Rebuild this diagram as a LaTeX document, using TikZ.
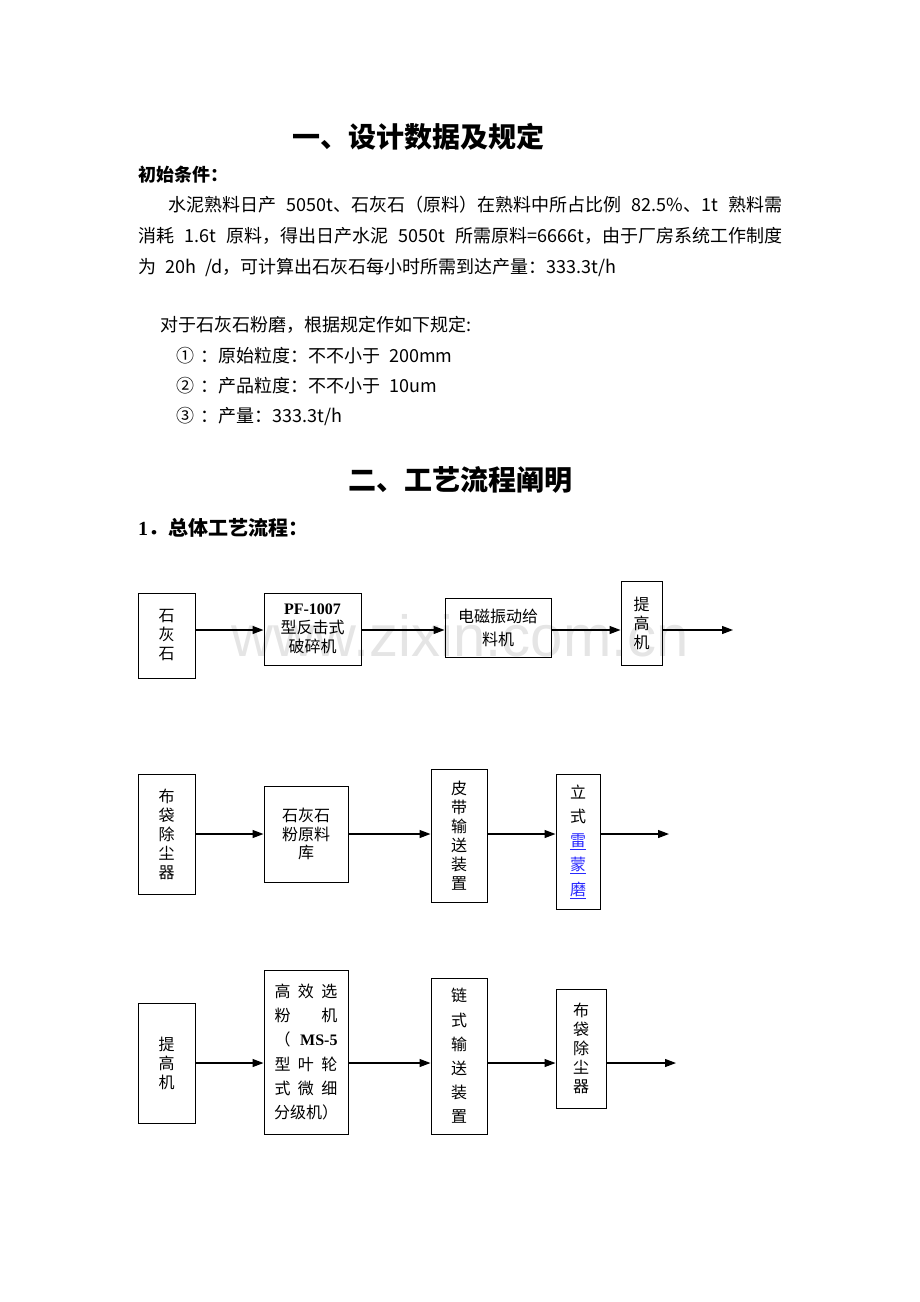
\documentclass[tikz,border=0pt]{standalone}
\usepackage{
  fontspec,
  tikz
}
\usetikzlibrary{arrows.meta}
\setmainfont{Noto Sans CJK SC}
\newfontfamily\tnr{Liberation Serif}
\newfontfamily\wmfont{Liberation Sans}
\definecolor{linkblue}{RGB}{40,40,255}
\newcommand\fixspace{\spaceskip=9pt plus 4pt\relax}

\tikzset{
  box/.style={draw, line width=1pt, align=center, inner sep=0pt,
    font=\fontsize{16}{19}\selectfont},
  wide/.style={font=\fontsize{16}{24.2}\selectfont},
  flow/.style={line width=1.2pt, -{Triangle[length=11pt,width=8pt]}},
  txt/.style={anchor=west, inner sep=0pt, font=\fontsize{18}{18}\selectfont},
  head/.style={inner sep=0pt, font=\bfseries\fontsize{28}{28}\selectfont}
}

\begin{document}
\begin{tikzpicture}[x=1pt, y=-1pt]
  \useasboundingbox (0,0) rectangle (920,1302);
  \node[anchor=base, text=gray!20, font=\wmfont\fontsize{58}{58}\selectfont] (mark) at (460,656) {www.zixin.com.cn};

  % texts
  \node[head] (title1) at (418,137) {一、设计数据及规定};
  \node[txt, font=\bfseries\fontsize{18}{18}\selectfont] (cond) at (138,175) {初始条件：};
  \node[txt] (lineA) at (168,205) {\fixspace\makebox[614pt][s]{水泥熟料日产 5050t、石灰石（原料）在熟料中所占比例 82.5\%、1t 熟料需}};
  \node[txt] (lineB) at (138,236) {\fixspace\makebox[644pt][s]{消耗 1.6t 原料，得出日产水泥 5050t 所需原料=6666t，由于厂房系统工作制度}};
  \node[txt] (lineC) at (138,267) {\fixspace 为 20h /d，可计算出石灰石每小时所需到达产量：333.3t/h};
  \node[txt] (rule) at (160,325) {对于石灰石粉磨，根据规定作如下规定:};
  \node[txt] (ruleA) at (176,356) {\fixspace ①\hspace{6pt}：原始粒度：不不小于 200mm};
  \node[txt] (ruleB) at (176,386) {\fixspace ②\hspace{6pt}：产品粒度：不不小于 10um};
  \node[txt] (ruleC) at (176,416) {③\hspace{6pt}：产量：333.3t/h};
  \node[head] (title2) at (460,480) {二、工艺流程阐明};
  \node[txt, font=\bfseries\fontsize{20}{20}\selectfont] (flowtitle) at (138,528) {{\tnr\bfseries 1}．总体工艺流程：};

  % row 1
  \node[box, minimum width=57, minimum height=85] (stone) at (166.5,635.5) {石\\灰\\石};
  \node[box, minimum width=97, minimum height=72] (crusher) at (312.5,629) {{\tnr\bfseries PF-1007}\\型反击式\\破碎机};
  \node[box, minimum width=106, minimum height=59, font=\fontsize{16}{23}\selectfont] (feeder) at (498,627.5) {电磁振动给\\料机};
  \node[box, minimum width=41, minimum height=84] (liftA) at (641.5,623) {提\\高\\机};
  \coordinate (rowA) at (0,630);
  \coordinate (endA) at (733,630);
  \draw[flow] (stone.east |- rowA) -- (crusher.west |- rowA);
  \draw[flow] (crusher.east |- rowA) -- (feeder.west |- rowA);
  \draw[flow] (feeder.east |- rowA) -- (liftA.west |- rowA);
  \draw[flow] (liftA.east |- rowA) -- (endA);

  % row 2
  \node[box, minimum width=57, minimum height=120] (filterA) at (166.5,834) {布\\袋\\除\\尘\\器};
  \node[box, minimum width=84, minimum height=96, font=\fontsize{16}{18.5}\selectfont] (silo) at (306,834) {石灰石\\粉原料\\库};
  \node[box, minimum width=56, minimum height=133] (belt) at (459,835.5) {皮\\带\\输\\送\\装\\置};
  \node[box, wide, minimum width=44, minimum height=135] (mill) at (578,841.5) {立\\式\\{\color{linkblue}\underline{雷}}\\{\color{linkblue}\underline{蒙}}\\{\color{linkblue}\underline{磨}}};
  \coordinate (rowB) at (0,834);
  \coordinate (endB) at (669,834);
  \draw[flow] (filterA.east |- rowB) -- (silo.west |- rowB);
  \draw[flow] (silo.east |- rowB) -- (belt.west |- rowB);
  \draw[flow] (belt.east |- rowB) -- (mill.west |- rowB);
  \draw[flow] (mill.east |- rowB) -- (endB);

  % row 3
  \node[box, minimum width=57, minimum height=120] (liftB) at (166.5,1063) {提\\高\\机};
  \node[box, wide, minimum width=84, minimum height=164] (classifier) at (306,1052) {\makebox[63pt][s]{高\hfill 效\hfill 选}\\\makebox[63pt][s]{粉\hfill 机}\\\makebox[63pt][s]{（\hfill{\tnr\bfseries MS-5}}\\\makebox[63pt][s]{型\hfill 叶\hfill 轮}\\\makebox[63pt][s]{式\hfill 微\hfill 细}\\分级机）};
  \node[box, wide, minimum width=56, minimum height=156] (chain) at (459,1056) {链\\式\\输\\送\\装\\置};
  \node[box, minimum width=50, minimum height=119] (filterB) at (581,1048.5) {布\\袋\\除\\尘\\器};
  \coordinate (rowC) at (0,1063);
  \coordinate (endC) at (676,1063);
  \draw[flow] (liftB.east |- rowC) -- (classifier.west |- rowC);
  \draw[flow] (classifier.east |- rowC) -- (chain.west |- rowC);
  \draw[flow] (chain.east |- rowC) -- (filterB.west |- rowC);
  \draw[flow] (filterB.east |- rowC) -- (endC);
\end{tikzpicture}
\end{document}
